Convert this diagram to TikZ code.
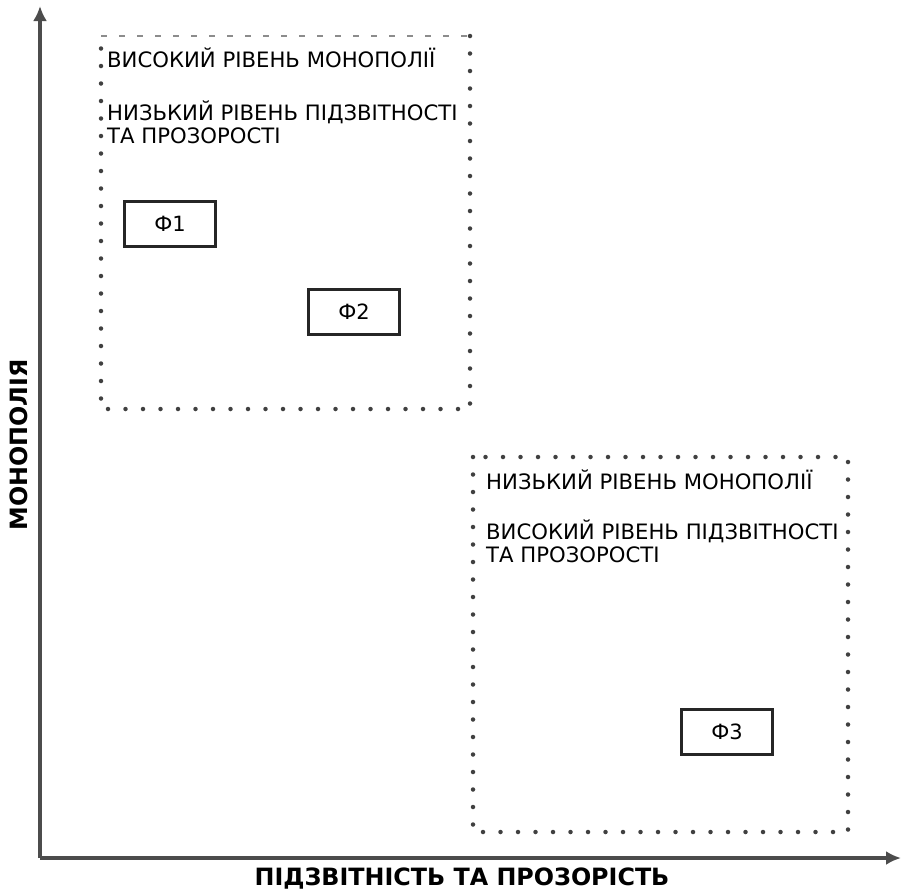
\documentclass[tikz,border=0pt]{standalone}
\usepackage{fontspec}
\setmainfont{DejaVu Sans}
\usetikzlibrary{arrows.meta}
\begin{document}
\begin{tikzpicture}[x=1pt,y=-1pt,
  axisline/.style={line width=3.5pt,draw=black!70,-{Latex[length=15pt,width=14pt]}},
  dotbox/.style={draw=black!75,line width=4.5pt,line cap=round,dash pattern=on 0pt off 17.5pt},
  fbox/.style={draw=black!85,line width=2.5pt,fill=white,minimum width=91pt,minimum height=45pt,inner sep=0pt,font=\fontsize{21}{22}\selectfont},
  boxtext/.style={anchor=west,inner sep=0pt,align=left,font=\fontsize{21.2}{23}\selectfont},
  axislabel/.style={inner sep=0pt,font=\fontsize{23.8}{26}\selectfont\bfseries}]
\useasboundingbox (0,0) rectangle (902,895);
\coordinate (o) at (40,858);
\coordinate (ytip) at (40,6);
\coordinate (xtip) at (901,858);
\draw[axisline] (o) -- (ytip);
\draw[axisline] (o) -- (xtip);
% box 1
\coordinate (b1a) at (101,36);
\coordinate (b1b) at (470,36);
\coordinate (b1c) at (470,409);
\coordinate (b1d) at (101,409);
\draw[dotbox] (b1b) -- (b1c) -- (b1d) -- (b1a);
\draw[draw=black!45,line width=2pt,dash pattern=on 6pt off 12pt] (b1a) -- (b1b);
% box 2
\coordinate (b2a) at (473,457);
\coordinate (b2c) at (848,832);
\draw[dotbox] (b2a) rectangle (b2c);
% texts
\node[boxtext] (t1) at (107,58) {ВИСОКИЙ РІВЕНЬ МОНОПОЛІЇ};
\node[boxtext,anchor=north west] (t2) at (107,101) {НИЗЬКИЙ РІВЕНЬ ПІДЗВІТНОСТІ\\ТА ПРОЗОРОСТІ};
\node[boxtext] (t3) at (486,480) {НИЗЬКИЙ РІВЕНЬ МОНОПОЛІЇ};
\node[boxtext,anchor=north west] (t4) at (486,520) {ВИСОКИЙ РІВЕНЬ ПІДЗВІТНОСТІ\\ТА ПРОЗОРОСТІ};
% F boxes
\node[fbox] (f1) at (170,224) {Ф1};
\node[fbox] (f2) at (354,312) {Ф2};
\node[fbox] (f3) at (727,732) {Ф3};
% axis labels
\node[axislabel,rotate=90] (ylab) at (19,445) {МОНОПОЛІЯ};
\node[axislabel] (xlab) at (462,879) {ПІДЗВІТНІСТЬ ТА ПРОЗОРІСТЬ};
\end{tikzpicture}
\end{document}
